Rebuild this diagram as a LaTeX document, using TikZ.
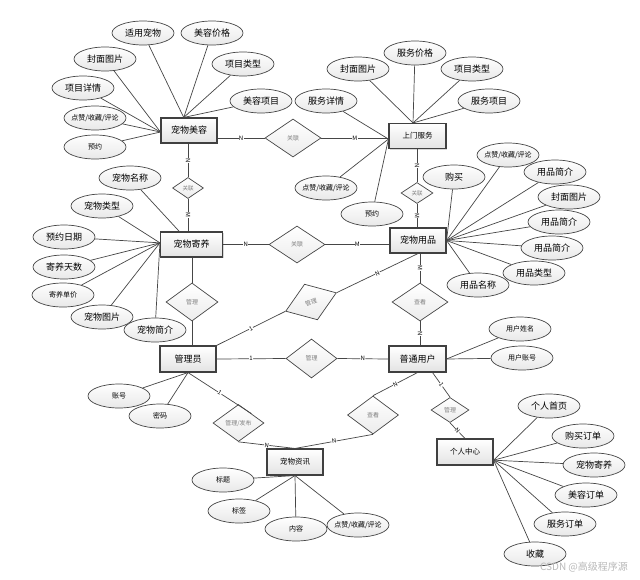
\documentclass[tikz,border=0pt]{standalone}
\usepackage{fontspec}
\setmainfont{Noto Sans CJK SC}
\usetikzlibrary{shapes.geometric,shadows}
\begin{document}
\begin{tikzpicture}[x=1pt,y=-1pt,
  ln/.style={draw=gray!55!black, line width=0.7pt},
  ent/.style={rectangle, draw=gray!50!black, line width=1.1pt, top color=white, bottom color=gray!22,
    minimum width=56pt, minimum height=25pt, inner sep=0pt, font=\fontsize{9}{9}\selectfont,
    drop shadow={opacity=0.3,shadow xshift=1pt,shadow yshift=-1pt}},
  ents/.style={ent, font=\fontsize{7.5}{7.5}\selectfont},
  attr/.style={ellipse, draw=gray!55!black, line width=0.7pt, top color=white, bottom color=gray!18,
    minimum width=62pt, minimum height=24pt, inner sep=0pt, font=\fontsize{9}{9}\selectfont},
  attrs/.style={attr, inner xsep=-3pt, font=\fontsize{7}{7}\selectfont},
  rel/.style={diamond, draw=gray!55!black, line width=0.7pt, top color=white, bottom color=gray!15,
    inner sep=0pt, font=\fontsize{6}{6}\selectfont, text=gray},
  elab/.style={font=\fontsize{6}{6}\selectfont, fill=white, inner sep=0.4pt, sloped}
]
\useasboundingbox (0,0) rectangle (640,579);
\fill[white] (0,0) rectangle (640,579);

% entities
\node[ent] (mr) at (189,130.5) {宠物美容};
\node[ents, minimum width=57pt] (sm) at (417.5,136) {上门服务};
\node[ent, minimum width=62pt] (jy) at (191.5,244.5) {宠物寄养};
\node[ent] (pu) at (418,240.5) {宠物用品};
\node[ent, minimum height=26pt] (gl) at (188,359) {管理员};
\node[ent, minimum width=57pt, minimum height=26pt] (pt) at (417.5,359) {普通用户};
\node[ents, minimum height=26pt] (zx) at (295,462) {宠物资讯};
\node[ents, minimum height=26pt] (gr) at (465,452) {个人中心};

% relations
\node[rel, minimum width=56pt, minimum height=38pt] (r1) at (293,138) {关联};
\node[rel, minimum width=31pt, minimum height=21pt, font=\fontsize{5.5}{5.5}\selectfont] (r2) at (188,188) {关联};
\node[rel, minimum width=32pt, minimum height=21pt, font=\fontsize{5.5}{5.5}\selectfont] (r3) at (417,193) {关联};
\node[rel, minimum width=56pt, minimum height=37pt] (r4) at (297,244.5) {关联};
\node[rel, minimum width=52pt, minimum height=38pt] (r5) at (192,302) {管理};
\node[rel, minimum width=54pt, minimum height=38pt, rotate=20] (r6) at (311,302) {管理};
\node[rel, minimum width=56pt, minimum height=38pt] (r7) at (420,302) {查看};
\node[rel, minimum width=51pt, minimum height=39pt] (r8) at (311.5,358.5) {管理};
\node[rel, minimum width=51pt, minimum height=37pt] (r9) at (238.5,423) {管理/发布};
\node[rel, minimum width=51pt, minimum height=38pt] (r10) at (373,415) {查看};
\node[rel, minimum width=38pt, minimum height=25pt] (r11) at (450,410) {管理};

% attributes of 宠物美容
\node[attr] (a1) at (143,33) {适用宠物};
\node[attr] (a2) at (212,33) {美容价格};
\node[attr] (a3) at (105,59) {封面图片};
\node[attr] (a4) at (243,64) {项目类型};
\node[attr] (a5) at (83,88) {项目详情};
\node[attr] (a6) at (261,101) {美容项目};
\node[attrs] (a7) at (95,118) {点赞/收藏/评论};
\node[attrs] (a8) at (95,147) {预约};
% attributes of 上门服务
\node[attr] (b1) at (358,69) {封面图片};
\node[attr] (b2) at (415,53) {服务价格};
\node[attr] (b3) at (472,69) {项目类型};
\node[attr] (b4) at (326,101) {服务详情};
\node[attr] (b5) at (489,101) {服务项目};
\node[attrs] (b6) at (326,188) {点赞/收藏/评论};
\node[attrs] (b7) at (372,214) {预约};
% attributes of 宠物用品
\node[attr] (c1) at (454,177) {购买};
\node[attrs] (c2) at (508,155) {点赞/收藏/评论};
\node[attr] (c3) at (555,172) {用品简介};
\node[attr] (c4) at (569,197) {封面图片};
\node[attr] (c5) at (559,222) {用品简介};
\node[attr] (c6) at (552,248) {用品简介};
\node[attr] (c7) at (534,273) {用品类型};
\node[attr] (c8) at (478,285) {用品名称};
% attributes of 宠物寄养
\node[attr] (d1) at (130,178) {宠物名称};
\node[attr] (d2) at (102,206) {宠物类型};
\node[attr] (d3) at (64,237) {预约日期};
\node[attr] (d4) at (64,267) {寄养天数};
\node[attrs] (d5) at (63,295) {寄养单价};
\node[attr] (d6) at (102,317) {宠物图片};
\node[attr] (d7) at (155,330) {宠物简介};
% attributes of 管理员
\node[attrs] (e1) at (119,396) {账号};
\node[attrs] (e2) at (160,416) {密码};
% attributes of 普通用户
\node[attrs] (f1) at (520,329) {用户姓名};
\node[attrs] (f2) at (522,358) {用户账号};
% attributes of 宠物资讯
\node[attrs] (g1) at (223,480) {标题};
\node[attrs] (g2) at (239,511) {标签};
\node[attrs] (g3) at (296,529) {内容};
\node[attrs] (g4) at (358,525) {点赞/收藏/评论};
% attributes of 个人中心
\node[attr] (h1) at (549,406) {个人首页};
\node[attr] (h2) at (583,436) {购买订单};
\node[attr] (h3) at (594,465) {宠物寄养};
\node[attr] (h4) at (586,495) {美容订单};
\node[attr] (h5) at (565,524) {服务订单};
\node[attr] (h6) at (535,554) {收藏};

% attribute links
\foreach \a in {a1,a2,a4,a6} \draw[ln] (\a) -- (mr.112);
\foreach \a in {a3,a5,a7,a8} \draw[ln] (\a) -- (mr.183);
\foreach \a in {b1,b2,b3,b5} \draw[ln] (\a) -- (sm.109);
\foreach \a in {b4,b6,b7} \draw[ln] (\a) -- (sm.186);
\foreach \a in {c1,c2,c3,c4,c5,c6,c7,c8} \draw[ln] (\a) -- (pu.east);
\draw[ln] (d1) -- (jy.133);
\foreach \a in {d2,d3,d4,d5,d6,d7} \draw[ln] (\a) -- (jy.177);
\foreach \a in {e1,e2} \draw[ln] (\a) -- (gl.south);
\foreach \a in {f1,f2} \draw[ln] (\a) -- (pt.east);
\foreach \a in {g1,g2,g3,g4} \draw[ln] (\a) -- (zx.south);
\foreach \a in {h1,h2,h3,h4,h5,h6} \draw[ln] (\a) -- (gr.344);

% relationship links
\draw[ln] (mr.east |- r1.west) -- node[elab]{N} (r1.west);
\draw[ln] (r1.east) -- node[elab]{M} (r1.east -| sm.west);
\draw[ln] (r2.north |- mr.south) -- node[elab]{N} (r2.north);
\draw[ln] (r2.south) -- node[elab]{M} (r2.south |- jy.north);
\draw[ln] (r3.north |- sm.south) -- node[elab]{N} (r3.north);
\draw[ln] (r3.south) -- node[elab]{M} (r3.south |- pu.north);
\draw[ln] (jy.east |- r4.west) -- node[elab]{N} (r4.west);
\draw[ln] (r4.east) -- node[elab]{M} (r4.east -| pu.west);
\draw[ln] (r5.north |- jy.south) -- (r5.north);
\draw[ln] (r5.south) -- (r5.south |- gl.north);
\draw[ln] (gl.north east) -- node[elab]{1} (r6.west);
\draw[ln] (r6.east) -- node[elab]{N} (pu.south);
\draw[ln] (r7.north |- pu.south) -- node[elab]{M} (r7.north);
\draw[ln] (r7.south) -- node[elab]{N} (r7.south |- pt.north);
\draw[ln] (gl.east) -- node[elab]{1} (r8.west);
\draw[ln] (r8.east) -- node[elab]{N} (pt.west);
\draw[ln] (gl.south) -- node[elab]{1} (r9.north east);
\draw[ln] (r9.south) -- node[elab]{N} (zx.north);
\draw[ln] (pt.south) -- node[elab]{N} (r10.north);
\draw[ln] (r10.south) -- node[elab]{N} (zx.north);
\draw[ln] (pt.318) -- node[elab]{1} (r11.north);
\draw[ln] (r11.south) -- node[elab]{N} (gr.north);

% watermark
\node[text=gray!55, font=\fontsize{10}{10}\selectfont] (wm) at (584,567) {CSDN @高级程序源};
\end{tikzpicture}
\end{document}
